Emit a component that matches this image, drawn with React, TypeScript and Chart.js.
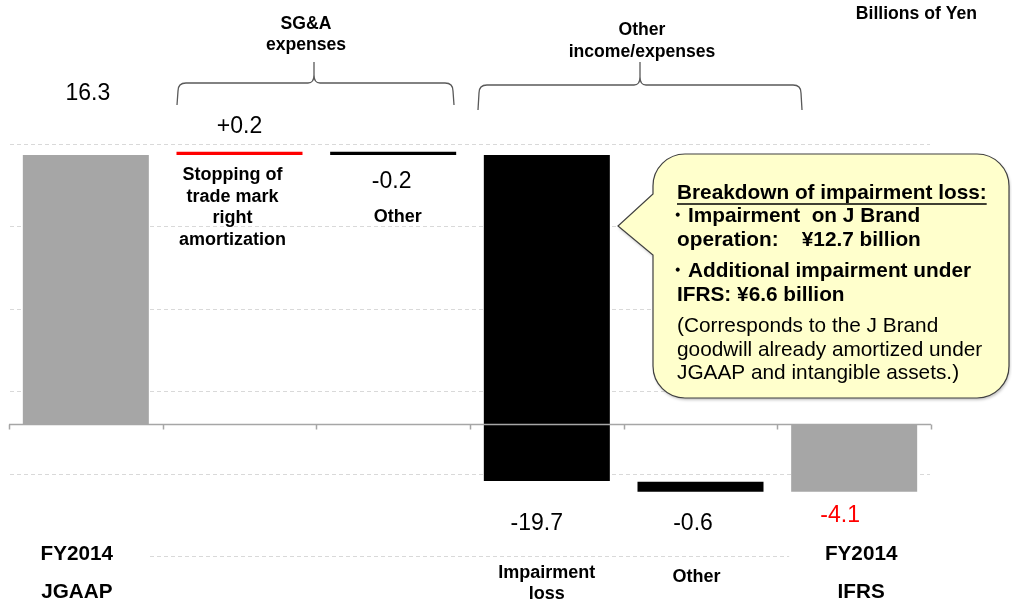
import { useEffect, useRef } from "react";
import { Chart, registerables } from "chart.js";

Chart.register(...registerables);

// ---------- data ----------
const categories = [
  "FY2014 JGAAP",
  "Stopping of trade mark right amortization",
  "Other",
  "Impairment loss",
  "Other",
  "FY2014 IFRS",
];
const barStart = [0, 16.3, 16.3, 16.3, -3.5, 0];
const barEnd = [16.3, 16.5, 16.5, -3.45, -4.1, -4.1];
const barColors = ["#A6A6A6", "#FF0000", "#000000", "#000000", "#000000", "#A6A6A6"];
const valueLabels = ["16.3", "+0.2", "-0.2", "-19.7", "-0.6", "-4.1"];
const valueLabelColors = ["#000000", "#000000", "#000000", "#000000", "#000000", "#FF0000"];
const categoryLines = [
  ["FY2014", "JGAAP"],
  ["Stopping of", "trade mark", "right", "amortization"],
  ["Other"],
  ["Impairment", "loss"],
  ["Other"],
  ["FY2014", "IFRS"],
];
const gridValues = [17, 12, 7, 2, -3, -8];
const groupTitles = [
  ["SG&A", "expenses"],
  ["Other", "income/expenses"],
];
const unitLabel = "Billions of Yen";
const calloutTitle = "Breakdown of impairment loss:";
const calloutBold = [
  "・Impairment  on J Brand",
  "operation:    ¥12.7 billion",
  "・Additional impairment under",
  "IFRS: ¥6.6 billion",
];
const calloutNote = [
  "(Corresponds to the J Brand",
  "goodwill already amortized under",
  "JGAAP and intangible assets.)",
];

const FONT = "'Liberation Sans', Arial, Helvetica, sans-serif";

function drawBrace(
  ctx: CanvasRenderingContext2D,
  x0: number,
  x1: number,
  xm: number,
  yEnd: number,
  yH: number,
  yPeak: number
) {
  const r = 8;
  const m = 6;
  ctx.beginPath();
  ctx.moveTo(x0, yEnd);
  ctx.lineTo(x0 + 1, yH + r);
  ctx.quadraticCurveTo(x0 + 1, yH, x0 + 1 + r, yH);
  ctx.lineTo(xm - m, yH);
  ctx.quadraticCurveTo(xm, yH, xm, yH - 8);
  ctx.lineTo(xm, yPeak);
  ctx.moveTo(xm, yH - 8);
  ctx.quadraticCurveTo(xm, yH, xm + m, yH);
  ctx.lineTo(x1 - 1 - r, yH);
  ctx.quadraticCurveTo(x1 - 1, yH, x1 - 1, yH + r);
  ctx.lineTo(x1, yEnd);
  ctx.strokeStyle = "#595959";
  ctx.lineWidth = 1.3;
  ctx.stroke();
}

const gridPlugin = {
  id: "dashGrid",
  beforeDatasetsDraw(chart: any) {
    const { ctx, chartArea, scales } = chart;
    const y = scales.y;
    ctx.save();
    ctx.strokeStyle = "#D9D9D9";
    ctx.lineWidth = 1;
    ctx.setLineDash([4, 3]);
    gridValues.forEach((v) => {
      const py = Math.round(y.getPixelForValue(v)) + 0.5;
      ctx.beginPath();
      ctx.moveTo(chartArea.left + 1, py);
      ctx.lineTo(chartArea.right - 1, py);
      ctx.stroke();
    });
    ctx.restore();
  },
};

const annotationPlugin = {
  id: "annotations",
  afterDatasetsDraw(chart: any) {
    const { ctx, chartArea, scales } = chart;
    const xs = scales.x;
    const ys = scales.y;
    const cx = (i: number) => xs.getPixelForValue(i);
    ctx.save();

    // zero axis line with tick marks at category boundaries
    const y0 = Math.round(ys.getPixelForValue(0)) + 0.5;
    ctx.strokeStyle = "#A6A6A6";
    ctx.lineWidth = 1.5;
    ctx.beginPath();
    ctx.moveTo(chartArea.left, y0);
    ctx.lineTo(chartArea.right, y0);
    const n = categories.length;
    for (let i = 0; i <= n; i++) {
      const x = Math.round(chartArea.left + (i * (chartArea.right - chartArea.left)) / n) + 0.5;
      ctx.moveTo(x, y0);
      ctx.lineTo(x, y0 + 5);
    }
    ctx.stroke();

    // value labels
    const valuePos = [
      [2, 94],
      [0, 127],
      [-1.5, 182],
      [-10, 524],
      [-7.5, 524],
      [-14, 516],
    ];
    ctx.font = `23px ${FONT}`;
    ctx.textAlign = "center";
    ctx.textBaseline = "middle";
    valueLabels.forEach((t, i) => {
      ctx.fillStyle = valueLabelColors[i];
      ctx.fillText(t, cx(i) + valuePos[i][0], valuePos[i][1]);
    });

    // category labels
    const catPos: { dx: number; ys: number[]; size: number; box?: boolean }[] = [
      { dx: -9, ys: [554, 592], size: 20.7, box: true },
      { dx: -7, ys: [175, 197, 218, 240], size: 18 },
      { dx: 4.5, ys: [217], size: 18 },
      { dx: 0, ys: [573, 594], size: 18 },
      { dx: -4, ys: [577], size: 18 },
      { dx: 7, ys: [554, 592], size: 20.7, box: true },
    ];
    categoryLines.forEach((lines, i) => {
      const p = catPos[i];
      const x = cx(i) + p.dx;
      if (p.box) {
        ctx.fillStyle = "#FFFFFF";
        ctx.fillRect(x - 72, p.ys[0] - 14, 144, p.ys[p.ys.length - 1] - p.ys[0] + 28);
      }
      ctx.font = `bold ${p.size}px ${FONT}`;
      ctx.fillStyle = "#000000";
      lines.forEach((t, k) => ctx.fillText(t, x, p.ys[k]));
    });

    // braces and group titles
    drawBrace(ctx, 177, 454, 314, 105, 83, 62);
    drawBrace(ctx, 478, 802, 640, 110, 85, 62);
    ctx.font = `bold 17.6px ${FONT}`;
    ctx.fillStyle = "#000000";
    ctx.fillText(groupTitles[0][0], 306, 24);
    ctx.fillText(groupTitles[0][1], 306, 45);
    ctx.fillText(groupTitles[1][0], 642, 30);
    ctx.fillText(groupTitles[1][1], 642, 52);

    // unit label
    ctx.textAlign = "right";
    ctx.fillText(unitLabel, 977, 14);

    // callout
    const L = 653, T = 154, R = 1009, B = 398, rad = 32;
    ctx.beginPath();
    ctx.moveTo(L + rad, T);
    ctx.lineTo(R - rad, T);
    ctx.arcTo(R, T, R, T + rad, rad);
    ctx.lineTo(R, B - rad);
    ctx.arcTo(R, B, R - rad, B, rad);
    ctx.lineTo(L + rad, B);
    ctx.arcTo(L, B, L, B - rad, rad);
    ctx.lineTo(L, 255);
    ctx.lineTo(618, 226);
    ctx.lineTo(L, 194);
    ctx.lineTo(L, T + rad);
    ctx.arcTo(L, T, L + rad, T, rad);
    ctx.closePath();
    ctx.save();
    ctx.shadowColor = "rgba(0,0,0,0.25)";
    ctx.shadowOffsetX = 1;
    ctx.shadowOffsetY = 2;
    ctx.shadowBlur = 3;
    ctx.fillStyle = "#FFFFCC";
    ctx.fill();
    ctx.restore();
    ctx.strokeStyle = "#404040";
    ctx.lineWidth = 1.2;
    ctx.stroke();

    ctx.textAlign = "left";
    ctx.fillStyle = "#000000";
    ctx.font = `bold 20.8px ${FONT}`;
    ctx.fillText(calloutTitle, 677, 193);
    const tw = ctx.measureText(calloutTitle).width;
    ctx.strokeStyle = "#000000";
    ctx.lineWidth = 1.5;
    ctx.beginPath();
    ctx.moveTo(677, 204);
    ctx.lineTo(677 + tw, 204);
    ctx.stroke();
    const boldY = [216, 240, 271, 295];
    calloutBold.forEach((t, k) => {
      const x = t.startsWith("・") ? 667 : 677;
      ctx.fillText(t, x, boldY[k]);
    });
    ctx.font = `20.8px ${FONT}`;
    const noteY = [326, 350, 373];
    calloutNote.forEach((t, k) => ctx.fillText(t, 677, noteY[k]));

    ctx.restore();
  },
};

export default function App() {
  const ref = useRef<HTMLCanvasElement>(null);
  useEffect(() => {
    const canvas = ref.current;
    if (!canvas) return;
    const chart = new Chart(canvas, {
      type: "bar",
      data: {
        labels: categories,
        datasets: [
          {
            data: categories.map((_, i) => [barStart[i], barEnd[i]]) as any,
            backgroundColor: barColors,
            borderWidth: 0,
            categoryPercentage: 1,
            barPercentage: 0.82,
            borderSkipped: false,
          },
        ],
      },
      options: {
        responsive: false,
        animation: false,
        events: [],
        layout: { padding: { left: 9, right: 81, top: 0, bottom: 0 } },
        plugins: { legend: { display: false }, tooltip: { enabled: false } },
        scales: {
          x: { display: false, offset: true },
          y: { display: false, min: -10.97, max: 25.7 },
        },
      },
      plugins: [gridPlugin, annotationPlugin],
    });
    return () => chart.destroy();
  }, []);
  return (
    <div
      style={{
        position: "fixed",
        left: 0,
        top: 0,
        width: 1012,
        height: 605,
        background: "#FFFFFF",
      }}
    >
      <canvas ref={ref} width={1012} height={605} style={{ display: "block" }} />
    </div>
  );
}
